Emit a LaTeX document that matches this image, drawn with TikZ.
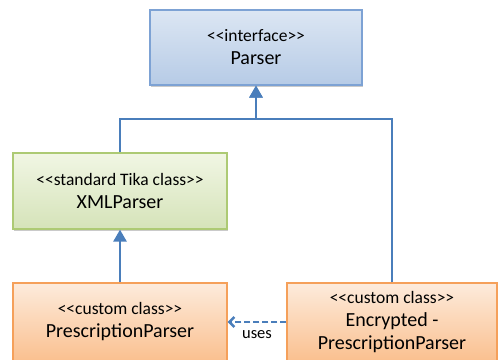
\documentclass[tikz,border=0pt]{standalone}
\usepackage{fontspec}
\setmainfont{Carlito}
\usetikzlibrary{arrows.meta, positioning, shadows}
\definecolor{linkblue}{HTML}{4A7EBB}
\definecolor{ifaceline}{HTML}{7DA2D4}
\definecolor{ifacetop}{HTML}{DCE6F3}
\definecolor{ifacebot}{HTML}{B6CBE6}
\definecolor{tikaline}{HTML}{ADCA74}
\definecolor{tikatop}{HTML}{F1F6E4}
\definecolor{tikabot}{HTML}{D5E3B9}
\definecolor{customline}{HTML}{F5A05A}
\definecolor{customtop}{HTML}{FDEBDC}
\definecolor{custombot}{HTML}{FAC08F}

\newcommand{\stereotype}[1]{{\fontsize{17.5}{23}\selectfont <\kern0pt<#1>\kern0pt>}}

\tikzset{
  umlbox/.style={draw, line width=1.2pt, align=center, inner sep=0pt,
    font=\fontsize{20}{23}\selectfont,
    drop shadow={shadow xshift=1pt, shadow yshift=-1.5pt, fill=black!35, opacity=.6}},
  ifacebox/.style={umlbox, draw=ifaceline, top color=ifacetop, bottom color=ifacebot},
  tikabox/.style={umlbox, draw=tikaline, top color=tikatop, bottom color=tikabot},
  custombox/.style={umlbox, draw=customline, top color=customtop, bottom color=custombot},
  inherit/.style={linkblue, line width=2.5pt, -{Triangle[width=13pt, length=12pt]}},
  uses/.style={linkblue, line width=2.5pt, dash pattern=on 6pt off 3pt,
    -{Straight Barb[width=10pt, length=5pt]}}
}

\begin{document}
\begin{tikzpicture}[x=1pt, y=-1pt]
  \useasboundingbox (0,0) rectangle (498,359);
  \clip (0,0) rectangle (498,359);

  % Class boxes
  \node[ifacebox, minimum width=212pt, minimum height=75pt] (parser) at (256,47.5)
    {\stereotype{interface}\\Parser};
  \node[tikabox, minimum width=214pt, minimum height=76pt] (xmlparser) at (120,191)
    {\stereotype{standard Tika class}\\XMLParser};
  \node[custombox, minimum width=214pt, minimum height=78pt] (presparser) at (120,322)
    {\stereotype{custom class}\\PrescriptionParser};
  \node[custombox, minimum width=210pt, minimum height=78pt] (encparser) at (392,322)
    {\stereotype{custom class}\\Encrypted -\\PrescriptionParser};

  % Inheritance
  \coordinate (hub) at (parser.south |- 0,119);
  \draw[inherit] (xmlparser.north) |- (hub) -- (parser.south);
  \draw[inherit] (encparser.north) |- (hub) -- (parser.south);
  \draw[inherit] (presparser.north) -- (xmlparser.south);

  % Dependency
  \draw[uses] (encparser.west) -- node[below=4pt, font=\fontsize{16.5}{18}\selectfont, text=black] (useslabel) {uses} (presparser.east);
\end{tikzpicture}
\end{document}
